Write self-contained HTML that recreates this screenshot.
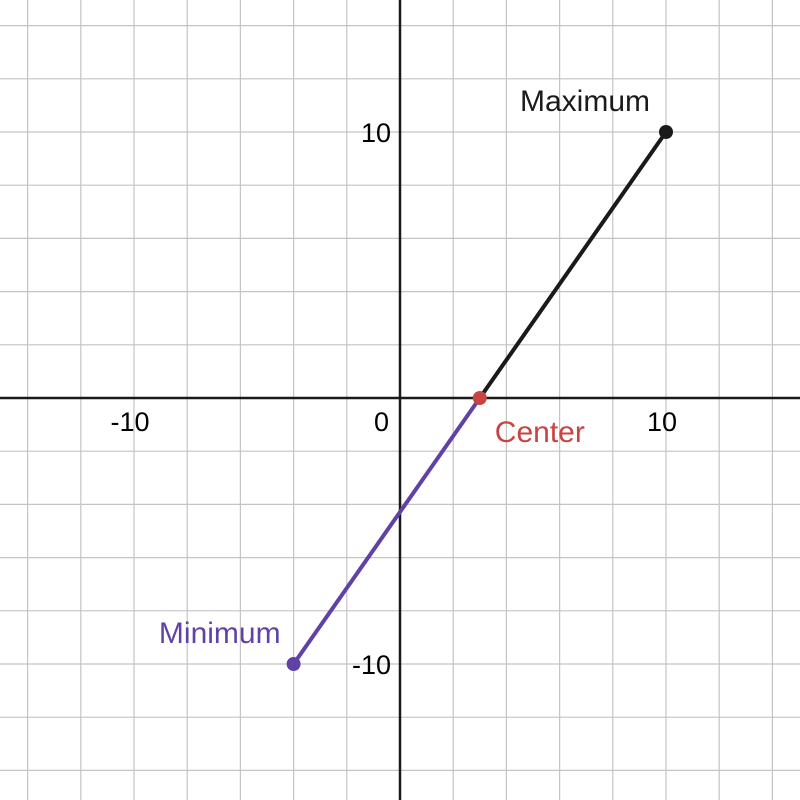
<!DOCTYPE html>
<html><head><meta charset="utf-8"><style>
html,body{margin:0;padding:0;background:#fff}
svg{display:block;font-family:"Liberation Sans",Arial,sans-serif}
</style></head><body>
<svg id="chart" width="800" height="800"></svg>
<script>
const gridValues=[-14,-12,-10,-8,-6,-4,-2,2,4,6,8,10,12,14];
const xTickLabels=[-10,10];
const yTickLabels=[10,-10];
const pointNames=["Maximum","Center","Minimum"];
const pointX=[10,3,-4];
const pointY=[10,0,-10];
const pointColors=["#1a1a1a","#c74440","#6042a6"];
const ox=400,oy=398,s=26.6;
const X=v=>ox+v*s, Y=v=>oy-v*s;
const svg=document.getElementById('chart');
const NS="http://www.w3.org/2000/svg";
function mk(t,a){const e=document.createElementNS(NS,t);for(const k in a)e.setAttribute(k,a[k]);svg.appendChild(e);return e;}
gridValues.forEach(v=>{
  const l=mk('line',{x1:X(v),x2:X(v),y1:0,y2:800,stroke:'#c4c4c4','stroke-width':1.2});
  
  
  const h=mk('line',{x1:0,x2:800,y1:Y(v),y2:Y(v),stroke:'#c4c4c4','stroke-width':1.2});
  
  
});
const xa=mk('line',{x1:0,x2:800,y1:oy,y2:oy,stroke:'#1a1a1a','stroke-width':2.5});


const ya=mk('line',{x1:ox,x2:ox,y1:0,y2:800,stroke:'#1a1a1a','stroke-width':2.5});


xTickLabels.forEach(v=>{
  const t=mk('text',{x:X(v)-4,y:oy+33,'text-anchor':'middle','font-size':27,fill:'#000'});
  t.textContent=v;
  
  
});
yTickLabels.forEach(v=>{
  const t=mk('text',{x:ox-9,y:Y(v)+10,'text-anchor':'end','font-size':27,fill:'#000'});
  t.textContent=v;
  
  
});
const z=mk('text',{x:ox-11,y:oy+33,'text-anchor':'end','font-size':27,fill:'#000'});
z.textContent='0';


const s1=mk('line',{x1:X(pointX[1]),y1:Y(pointY[1]),x2:X(pointX[0]),y2:Y(pointY[0]),stroke:pointColors[0],'stroke-width':4});


const s2=mk('line',{x1:X(pointX[1]),y1:Y(pointY[1]),x2:X(pointX[2]),y2:Y(pointY[2]),stroke:pointColors[2],'stroke-width':4});


const lab=[[-16,-21,'end'],[15,44,'start'],[-13,-21,'end']];
pointNames.forEach((n,i)=>{
  const c=mk('circle',{cx:X(pointX[i]),cy:Y(pointY[i]),r:7,fill:pointColors[i]});
  
  
  const t=mk('text',{x:X(pointX[i])+lab[i][0],y:Y(pointY[i])+lab[i][1],'text-anchor':lab[i][2],'font-size':30,fill:pointColors[i]});
  t.textContent=n;
  
  
});
</script>
</body></html>
